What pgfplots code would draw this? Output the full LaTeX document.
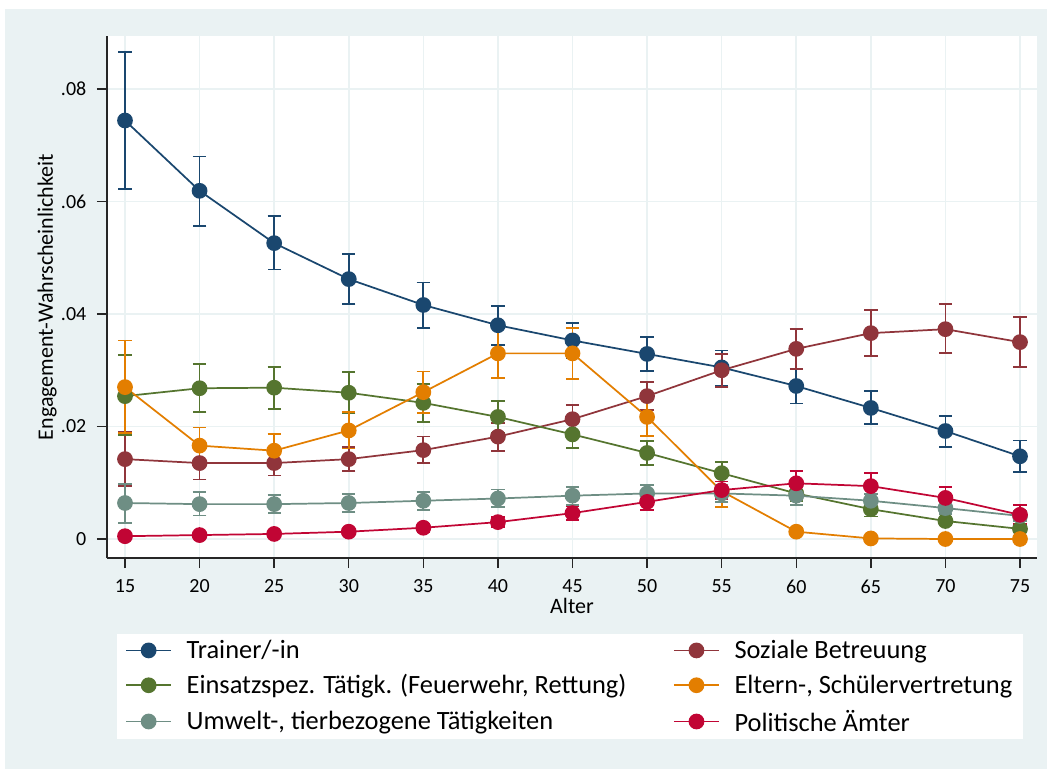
\documentclass[border=0pt]{standalone}
\usepackage{pgfplots}
\usepackage{pgfplotstable}
\pgfplotsset{compat=1.18}
\usepackage{fontspec}
\setmainfont{Carlito}
\definecolor{bg}{RGB}{234,242,243}
\definecolor{cnavy}{RGB}{26,71,111}
\definecolor{cmaroon}{RGB}{144,53,59}
\definecolor{cgreen}{RGB}{85,117,47}
\definecolor{corange}{RGB}{227,126,0}
\definecolor{cteal}{RGB}{110,142,132}
\definecolor{ccran}{RGB}{193,5,52}

\pgfplotstableread{
x y lo hi
15 0.0744 0.0622 0.0866
20 0.0619 0.0557 0.0680
25 0.0526 0.0479 0.0574
30 0.0462 0.0418 0.0507
35 0.0416 0.0375 0.0456
40 0.0380 0.0345 0.0414
45 0.0353 0.0322 0.0384
50 0.0329 0.0299 0.0359
55 0.0305 0.0272 0.0335
60 0.0272 0.0241 0.0302
65 0.0233 0.0204 0.0263
70 0.0192 0.0164 0.0219
75 0.0147 0.0119 0.0175
}\trainer
\pgfplotstableread{
x y lo hi
15 0.0142 0.0094 0.0190
20 0.0135 0.0106 0.0160
25 0.0135 0.0113 0.0155
30 0.0142 0.0121 0.0164
35 0.0158 0.0135 0.0182
40 0.0182 0.0157 0.0206
45 0.0213 0.0188 0.0238
50 0.0254 0.0229 0.0279
55 0.0300 0.0270 0.0329
60 0.0338 0.0302 0.0373
65 0.0366 0.0325 0.0407
70 0.0373 0.0331 0.0418
75 0.0350 0.0306 0.0395
}\sozial
\pgfplotstableread{
x y lo hi
15 0.0254 0.0185 0.0327
20 0.0268 0.0226 0.0311
25 0.0269 0.0231 0.0306
30 0.0260 0.0224 0.0297
35 0.0242 0.0208 0.0276
40 0.0217 0.0189 0.0245
45 0.0186 0.0162 0.0210
50 0.0153 0.0131 0.0174
55 0.0117 0.0097 0.0137
60 0.0081 0.0068 0.0094
65 0.0053 0.0040 0.0066
70 0.0032 0.0024 0.0040
75 0.0018 0.0012 0.0024
}\einsatz
\pgfplotstableread{
x y lo hi
15 0.0270 0.0188 0.0353
20 0.0166 0.0134 0.0198
25 0.0157 0.0128 0.0187
30 0.0193 0.0161 0.0226
35 0.0261 0.0224 0.0298
40 0.0330 0.0286 0.0374
45 0.0330 0.0284 0.0375
50 0.0217 0.0183 0.0251
55 0.0085 0.0057 0.0113
60 0.0013 0.0006 0.0020
65 0.0001 0.0000 0.0002
70 0.0000 0.0000 0.0001
75 0.0000 0.0000 0.0001
}\eltern
\pgfplotstableread{
x y lo hi
15 0.0064 0.0029 0.0098
20 0.0062 0.0042 0.0083
25 0.0062 0.0046 0.0078
30 0.0064 0.0048 0.0080
35 0.0068 0.0052 0.0084
40 0.0072 0.0057 0.0088
45 0.0077 0.0061 0.0092
50 0.0081 0.0066 0.0096
55 0.0081 0.0066 0.0096
60 0.0077 0.0060 0.0092
65 0.0068 0.0056 0.0080
70 0.0055 0.0045 0.0065
75 0.0041 0.0032 0.0050
}\umwelt
\pgfplotstableread{
x y lo hi
15 0.0005 0.0001 0.0010
20 0.0007 0.0003 0.0011
25 0.0009 0.0005 0.0013
30 0.0013 0.0008 0.0018
35 0.0020 0.0013 0.0027
40 0.0030 0.0021 0.0039
45 0.0046 0.0034 0.0058
50 0.0066 0.0051 0.0081
55 0.0087 0.0071 0.0102
60 0.0099 0.0078 0.0121
65 0.0094 0.0073 0.0117
70 0.0073 0.0053 0.0092
75 0.0043 0.0027 0.0060
}\politik

\pgfplotsset{
  ser/.style={color=#1, mark=*, mark size=5.25pt, mark options={solid, fill=#1, draw=#1}, line width=1.3pt,
    error bars/y dir=both, error bars/y explicit,
    error bars/error bar style={line width=1.3pt, solid, color=#1},
    error bars/error mark options={rotate=90, mark size=5pt, line width=1.3pt, color=#1}},
}

\begin{document}
\begin{tikzpicture}
\fill[white] (-80.25pt,-158.25pt) rectangle (705pt,418.5pt);
\fill[bg] (-76.5pt,-158.25pt) rectangle (705pt,411.75pt);
\begin{axis}[
  at={(0pt,0pt)}, anchor=south west,
  scale only axis, width=697.5pt, height=391.5pt,
  xmin=13.793, xmax=76.14, ymin=-0.003378, ymax=0.08942,
  axis background/.style={fill=white},
  axis x line*=bottom, axis y line*=left,
  axis line style={line width=1.1pt, black!85},
  xtick={15,20,...,75},
  ytick={0,0.02,0.04,0.06,0.08},
  yticklabels={0,.02,.04,.06,.08},
  scaled y ticks=false,
  /pgf/number format/assume math mode=true,
  tick align=outside, major tick length=7.5pt,
  tick style={line width=1.1pt, black!85},
  xmajorgrids, ymajorgrids,
  major grid style={line width=1.2pt, bg},
  ticklabel style={font=\fontsize{15}{18}\selectfont},
  xticklabel style={yshift=-5.25pt},
  yticklabel style={xshift=-4.5pt},
  label style={font=\fontsize{16.5}{19}\selectfont},
  xlabel={Alter},
  ylabel={Engagement-Wahrscheinlichkeit},
  ylabel style={at={(axis description cs:-0.0645,0.5)}, anchor=center},
  xlabel style={at={(axis description cs:0.5,-0.092)}, anchor=center},
  legend columns=2,
  legend cell align=left,
  legend style={at={(axis description cs:0.01075,-0.1456)}, anchor=north west,
    draw=none, fill=white, inner xsep=6pt, inner ysep=2.5pt,
    font=\fontsize{19.8}{23}\selectfont, row sep=6.5pt,
    /tikz/column 1/.style={column sep=9pt},
    /tikz/column 2/.style={column sep=33pt},
    /tikz/column 3/.style={column sep=9pt}},
  legend image code/.code={\draw[mark repeat=2,mark phase=2] plot coordinates {(0pt,0pt) (16.875pt,0pt) (33.75pt,0pt)};},
]
\addplot[ser=cnavy] table[x=x, y=y, y error plus expr=\thisrow{hi}-\thisrow{y}, y error minus expr=\thisrow{y}-\thisrow{lo}] {\trainer};
\addlegendentry{Trainer/-in}
\addplot[ser=cmaroon] table[x=x, y=y, y error plus expr=\thisrow{hi}-\thisrow{y}, y error minus expr=\thisrow{y}-\thisrow{lo}] {\sozial};
\addlegendentry{Soziale Betreuung}
\addplot[ser=cgreen] table[x=x, y=y, y error plus expr=\thisrow{hi}-\thisrow{y}, y error minus expr=\thisrow{y}-\thisrow{lo}] {\einsatz};
\addlegendentry{Einsatzspez. Tätigk. (Feuerwehr, Rettung)}
\addplot[ser=corange] table[x=x, y=y, y error plus expr=\thisrow{hi}-\thisrow{y}, y error minus expr=\thisrow{y}-\thisrow{lo}] {\eltern};
\addlegendentry{Eltern-, Schülervertretung}
\addplot[ser=cteal] table[x=x, y=y, y error plus expr=\thisrow{hi}-\thisrow{y}, y error minus expr=\thisrow{y}-\thisrow{lo}] {\umwelt};
\addlegendentry{Umwelt-, tierbezogene Tätigkeiten}
\addplot[ser=ccran] table[x=x, y=y, y error plus expr=\thisrow{hi}-\thisrow{y}, y error minus expr=\thisrow{y}-\thisrow{lo}] {\politik};
\addlegendentry{Politische Ämter}
\end{axis}
\useasboundingbox (-80.25pt,-158.25pt) rectangle (705pt,418.5pt);
\end{tikzpicture}
\end{document}
